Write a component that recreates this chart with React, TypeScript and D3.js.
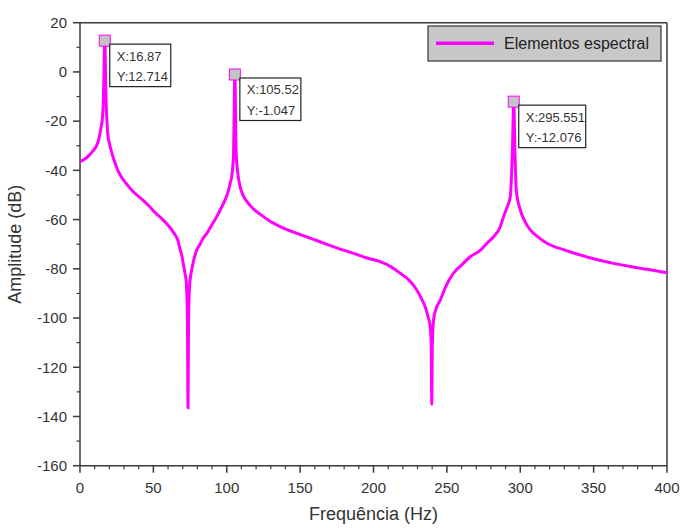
import React from "react";
import * as d3 from "d3";

const freq = [
  0, 3, 6.4, 9, 10.9, 12.5, 13.6, 14.5, 15.2, 16.0, 16.87, 17.7, 18.9, 20, 21.1, 23, 25.7, 28, 31.4, 36,
  42.7, 47, 51.8, 56, 60.9, 64, 66.6, 68.2, 69.5, 70.7, 71.6, 72.5, 73.2, 73.6, 74.0, 74.8, 76.1, 77.3,
  79.5, 81.8, 84, 86.4, 90, 93.2, 96, 98.9, 101, 102.3, 103.6, 104.6, 105.52, 106.4, 107.5, 109.1, 111,
  113.6, 117, 122.7, 129, 136.4, 145, 154.5, 163.6, 170.5, 180, 186.4, 195, 204.5, 212, 218.2, 224,
  229.5, 233, 235.2, 237.2, 238.6, 239.3, 239.7, 240.1, 240.9, 242.5, 245.5, 249, 254.5, 260, 265.9,
  272.7, 277.3, 281.8, 286.4, 288.6, 291, 293.2, 294.7, 295.551, 296.4, 297.3, 300, 303, 306.8, 312,
  318.2, 330, 340.9, 352, 363.6, 375, 386.4, 400,
];

const amplitude = [
  -36.5, -35.5, -33.8, -32, -30.4, -28, -25, -22, -19.5, -10, 12.714, -10, -25, -29, -31.7, -35.5, -39.9,
  -42.5, -45.3, -48.5, -52, -54.5, -57.5, -59.8, -62.9, -65.5, -68.3, -72, -75, -79, -82, -86, -100,
  -136.5, -100, -86, -80.5, -77, -72.4, -70, -67.5, -65.6, -62, -58.8, -55.5, -52, -48.5, -45.3, -41.5,
  -33.5, -1.047, -33, -41, -46.6, -50, -52.5, -55, -57.8, -60.5, -62.9, -65, -67, -69, -70.6, -72.5,
  -73.7, -75.5, -77.1, -79.2, -81.8, -84.5, -88.6, -92.5, -95.4, -99.5, -103.5, -110, -135, -110,
  -100.8, -96.5, -92.7, -87.5, -81.8, -78.5, -75.1, -72.5, -69.6, -67, -62.9, -58.8, -55, -50.7, -31,
  -12.076, -33, -48, -56.1, -60.5, -64.2, -67, -69.6, -72.3, -74.4, -76.2, -77.8, -79.1, -80.2, -81.6,
];

const peakFreq = [16.87, 105.52, 295.551];
const peakAmp = [12.714, -1.047, -12.076];
const peakLabelX = ["X:16.87", "X:105.52", "X:295.551"];
const peakLabelY = ["Y:12.714", "Y:-1.047", "Y:-12.076"];

const xTicks = [0, 50, 100, 150, 200, 250, 300, 350, 400];
const yTicks = [20, 0, -20, -40, -60, -80, -100, -120, -140, -160];

const seriesName = "Elementos espectral";
const xTitle = "Frequência (Hz)";
const yTitle = "Amplitude (dB)";

const W = 683;
const H = 528;
const left = 80;
const right = 667;
const top = 22.7;
const bottom = 465.7;
const font = "'Liberation Sans', Arial, sans-serif";
const axisColor = "#3a3a3a";
const magenta = "#ff00ff";

export default function App() {
  const x = d3.scaleLinear().domain([0, 400]).range([left, right]);
  const y = d3.scaleLinear().domain([-160, 20]).range([bottom, top]);

  const data = freq.map((f, i) => [f, amplitude[i]] as [number, number]);
  const line = d3
    .line<[number, number]>()
    .x((d) => x(d[0]))
    .y((d) => y(d[1]))
    .curve(d3.curveMonotoneX);

  const xMinor = d3.range(0, 401, 10).filter((v) => v % 50 !== 0);
  const yMinor = d3.range(-150, 20, 20);

  const boxW = [61, 61, 67];

  return (
    <svg
      width={W}
      height={H}
      style={{ position: "absolute", left: 0, top: 0, background: "#fff" }}
      fontFamily={font}
    >
      <rect x={0} y={0} width={W} height={H} fill="#fff" />
      <line x1={left} x2={right} y1={top} y2={top} stroke={axisColor} strokeWidth={1.5} />
      <line x1={right} x2={right} y1={top} y2={bottom} stroke={axisColor} strokeWidth={1.5} />
      <line x1={left} x2={left} y1={top} y2={bottom} stroke={axisColor} strokeWidth={1.5} />
      <line x1={left} x2={right} y1={bottom} y2={bottom} stroke={axisColor} strokeWidth={1.5} />

      {xTicks.map((t) => (
        <g key={"xt" + t}>
          <line x1={x(t)} x2={x(t)} y1={bottom} y2={bottom + 7} stroke={axisColor} strokeWidth={1.5} />
          <text x={x(t)} y={bottom + 27} textAnchor="middle" fontSize={15} fill="#333">
            {t}
          </text>
        </g>
      ))}
      {xMinor.map((t) => (
        <line key={"xm" + t} x1={x(t)} x2={x(t)} y1={bottom} y2={bottom + 3.5} stroke={axisColor} strokeWidth={1.2} />
      ))}

      {yTicks.map((t) => (
        <g key={"yt" + t}>
          <line x1={left - 7} x2={left} y1={y(t)} y2={y(t)} stroke={axisColor} strokeWidth={1.5} />
          <text x={left - 13} y={y(t)} dy="0.35em" textAnchor="end" fontSize={15} fill="#333">
            {t}
          </text>
        </g>
      ))}
      {yMinor.map((t) => (
        <line key={"ym" + t} x1={left - 3.5} x2={left} y1={y(t)} y2={y(t)} stroke={axisColor} strokeWidth={1.2} />
      ))}

      <text x={(left + right) / 2} y={520} textAnchor="middle" fontSize={18} fill="#333">
        {xTitle}
      </text>
      <text
        transform={`translate(21, ${(top + bottom) / 2}) rotate(-90)`}
        textAnchor="middle"
        fontSize={18}
        fill="#333"
      >
        {yTitle}
      </text>

      <path d={line(data) || ""} fill="none" stroke={magenta} strokeWidth={3} strokeLinejoin="miter" strokeMiterlimit={2} />

      {peakFreq.map((f, i) => {
        const mx = x(f);
        const my = y(peakAmp[i]);
        const bx = mx + 5;
        const by = my + 3.5;
        return (
          <g key={"pk" + i}>
            <rect x={mx - 5.5} y={my - 5.5} width={11} height={11} fill="#c3c3c3" stroke={magenta} strokeWidth={1} />
            <rect x={bx} y={by} width={boxW[i]} height={42.5} fill="#fff" stroke="#222" strokeWidth={1.2} />
            <text x={bx + 7} y={by + 16.5} fontSize={13} fill="#333">
              {peakLabelX[i]}
            </text>
            <text x={bx + 7} y={by + 37} fontSize={13} fill="#333">
              {peakLabelY[i]}
            </text>
          </g>
        );
      })}

      <rect x={428} y={26} width={233} height={35} fill="#c8c8c8" stroke="#333" strokeWidth={1.2} />
      <line x1={436} x2={494} y1={43.3} y2={43.3} stroke={magenta} strokeWidth={3.5} />
      <text x={504} y={43.3} dy="0.35em" fontSize={16} fill="#222">
        {seriesName}
      </text>
    </svg>
  );
}
